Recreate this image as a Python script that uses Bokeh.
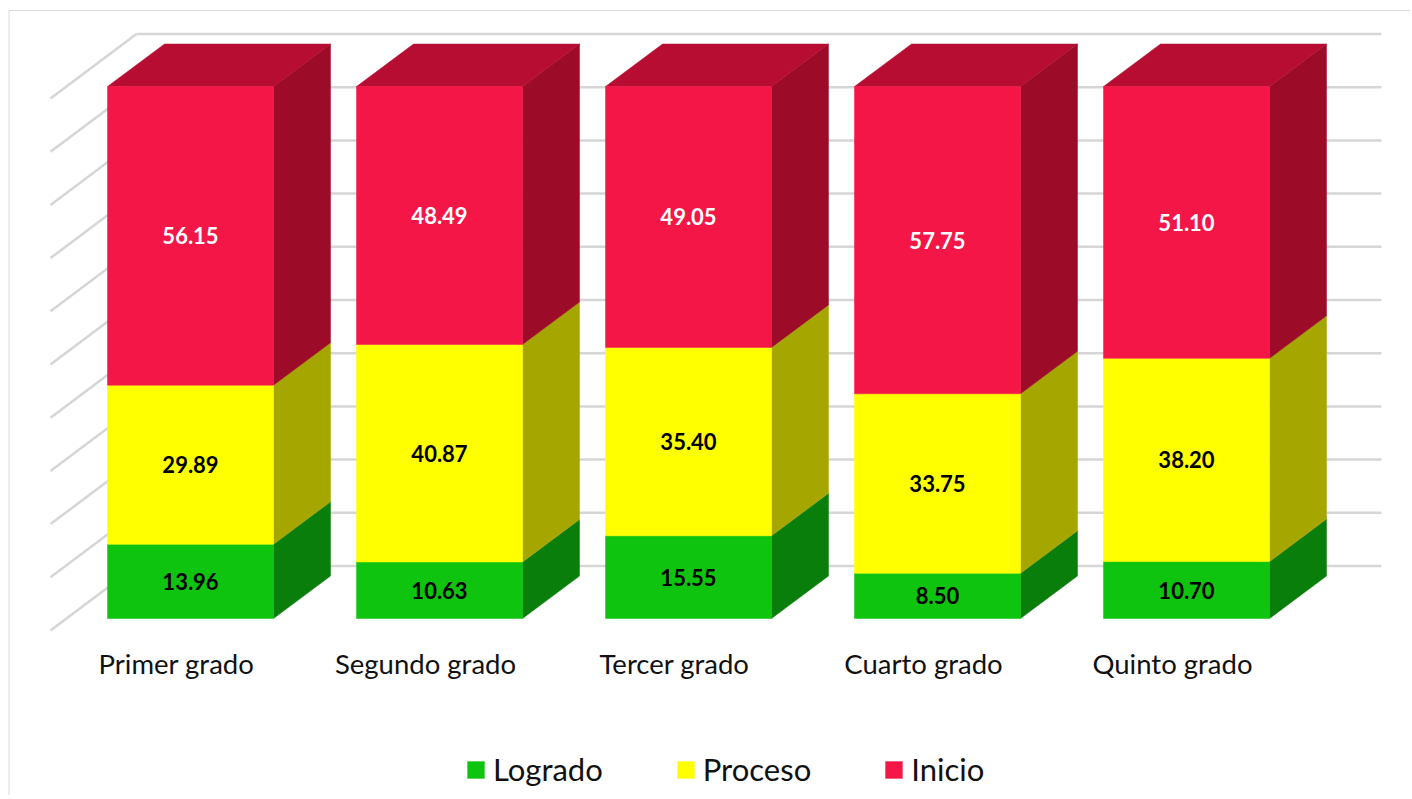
from bokeh.plotting import figure
from bokeh.models import Range1d, Legend, LegendItem, ColumnDataSource
from bokeh.core.properties import value
from bokeh.embed import file_html
from bokeh.resources import INLINE

# ---------------- data ----------------
categories = ["Primer grado", "Segundo grado", "Tercer grado", "Cuarto grado", "Quinto grado"]
logrado = [13.96, 10.63, 15.55, 8.50, 10.70]
proceso = [29.89, 40.87, 35.40, 33.75, 38.20]
inicio = [56.15, 48.49, 49.05, 57.75, 51.10]
series_names = ["Logrado", "Proceso", "Inicio"]
grid_values = [0, 10, 20, 30, 40, 50, 60, 70, 80, 90, 100]

# ---------------- styles ----------------
front_colors = ["#0EC40E", "#FFFF00", "#F41646"]
side_colors = ["#0A7E0A", "#A6A600", "#9C0C29"]
top_color = "#B70D33"
label_colors = ["black", "black", "white"]
grid_color = "#D6D6D6"
FONT = "Lato"

# ---------------- layout (pixel scale) ----------------
W, H = 1410, 795
ORG = 0             # page offset of the frame
SX = 249.0          # px per category step
SY = 5.32           # px per percent
X0 = -(190 - ORG) / SX
X1 = X0 + W / SX
Y1 = (618 - ORG) / SY
Y0 = Y1 - H / SY

BW = 166 / SX       # bar width
DX = 57 / SX        # depth offset x
DY = 42.5 / SY      # depth offset y
WALL_DY = 52.5 / SY
WALL_XB = X0 + (136 - ORG) / SX
WALL_XR = X0 + (1381 - ORG) / SX
WALL_XF = X0 + (50 - ORG) / SX
WALL_FY = -12 / SY
BORDER_Y = Y1 - (10 - ORG) / SY
BORDER_X = X0 + (8.5 - ORG) / SX

p = figure(width=W, height=H, x_range=Range1d(X0, X1), y_range=Range1d(Y0, Y1),
           toolbar_location=None, output_backend="svg", min_border=0,
           x_axis_location=None, y_axis_location=None)
p.grid.visible = False
p.outline_line_color = None
p.background_fill_color = "white"
p.border_fill_color = "white"

# chart border (top and left)
p.segment(x0=[BORDER_X, BORDER_X], y0=[BORDER_Y, BORDER_Y],
          x1=[X1, BORDER_X], y1=[BORDER_Y, Y0],
          line_color="#D9D9D9", line_width=1)

# back wall gridlines
p.segment(x0=[WALL_XB] * len(grid_values), x1=[WALL_XR] * len(grid_values),
          y0=[v + WALL_DY for v in grid_values], y1=[v + WALL_DY for v in grid_values],
          line_color=grid_color, line_width=2.5)
# side wall diagonals
p.segment(x0=[WALL_XF] * len(grid_values), x1=[WALL_XB] * len(grid_values),
          y0=[v + WALL_FY for v in grid_values], y1=[v + WALL_DY for v in grid_values],
          line_color=grid_color, line_width=2.5)

series = [logrado, proceso, inicio]
xs_idx = list(range(len(categories)))

# side faces
for s, vals in enumerate(series):
    pxs, pys = [], []
    for i in xs_idx:
        bottom = sum(series[k][i] for k in range(s))
        top = bottom + vals[i]
        xr = i + BW / 2
        pxs.append([xr, xr + DX, xr + DX, xr])
        pys.append([bottom, bottom + DY, top + DY, top])
    p.patches(pxs, pys, fill_color=side_colors[s], line_color=side_colors[s], line_width=0.5)

# top faces
txs, tys = [], []
for i in xs_idx:
    total = sum(series[k][i] for k in range(3))
    xl, xr = i - BW / 2, i + BW / 2
    txs.append([xl, xl + DX, xr + DX, xr])
    tys.append([total, total + DY, total + DY, total])
p.patches(txs, tys, fill_color=top_color, line_color=top_color, line_width=0.5)

# front faces (stacked)
src = ColumnDataSource(dict(x=xs_idx, Logrado=logrado, Proceso=proceso, Inicio=inicio))
renderers = p.vbar_stack(series_names, x="x", width=BW, source=src,
                         fill_color=front_colors, line_color=front_colors, line_width=0.5)

# data labels
for s, vals in enumerate(series):
    mids, texts = [], []
    for i in xs_idx:
        bottom = sum(series[k][i] for k in range(s))
        mids.append(bottom + vals[i] / 2)
        texts.append(f"{vals[i]:.2f}")
    p.text(x=xs_idx, y=mids, text=texts, text_align="center", text_baseline="middle",
           text_font=value(FONT), text_font_style="bold", text_font_size="22px",
           text_color=label_colors[s])

# category labels
p.text(x=[i - 14 / SX for i in xs_idx], y=[-45 / SY] * len(xs_idx), text=categories,
       text_align="center", text_baseline="middle",
       text_font=value(FONT), text_font_size="27.5px", text_color="#111111")

legend = Legend(items=[LegendItem(label=n, renderers=[r]) for n, r in zip(series_names, renderers)],
                orientation="horizontal", location=(465, 7),
                glyph_width=21, glyph_height=21, label_standoff=7, spacing=72,
                padding=0, margin=0, border_line_color=None, background_fill_alpha=0,
                label_text_font=FONT, label_text_font_size="31px", label_text_color="#111111")
p.add_layout(legend)

open("out.html", "w").write(file_html(p, INLINE))
